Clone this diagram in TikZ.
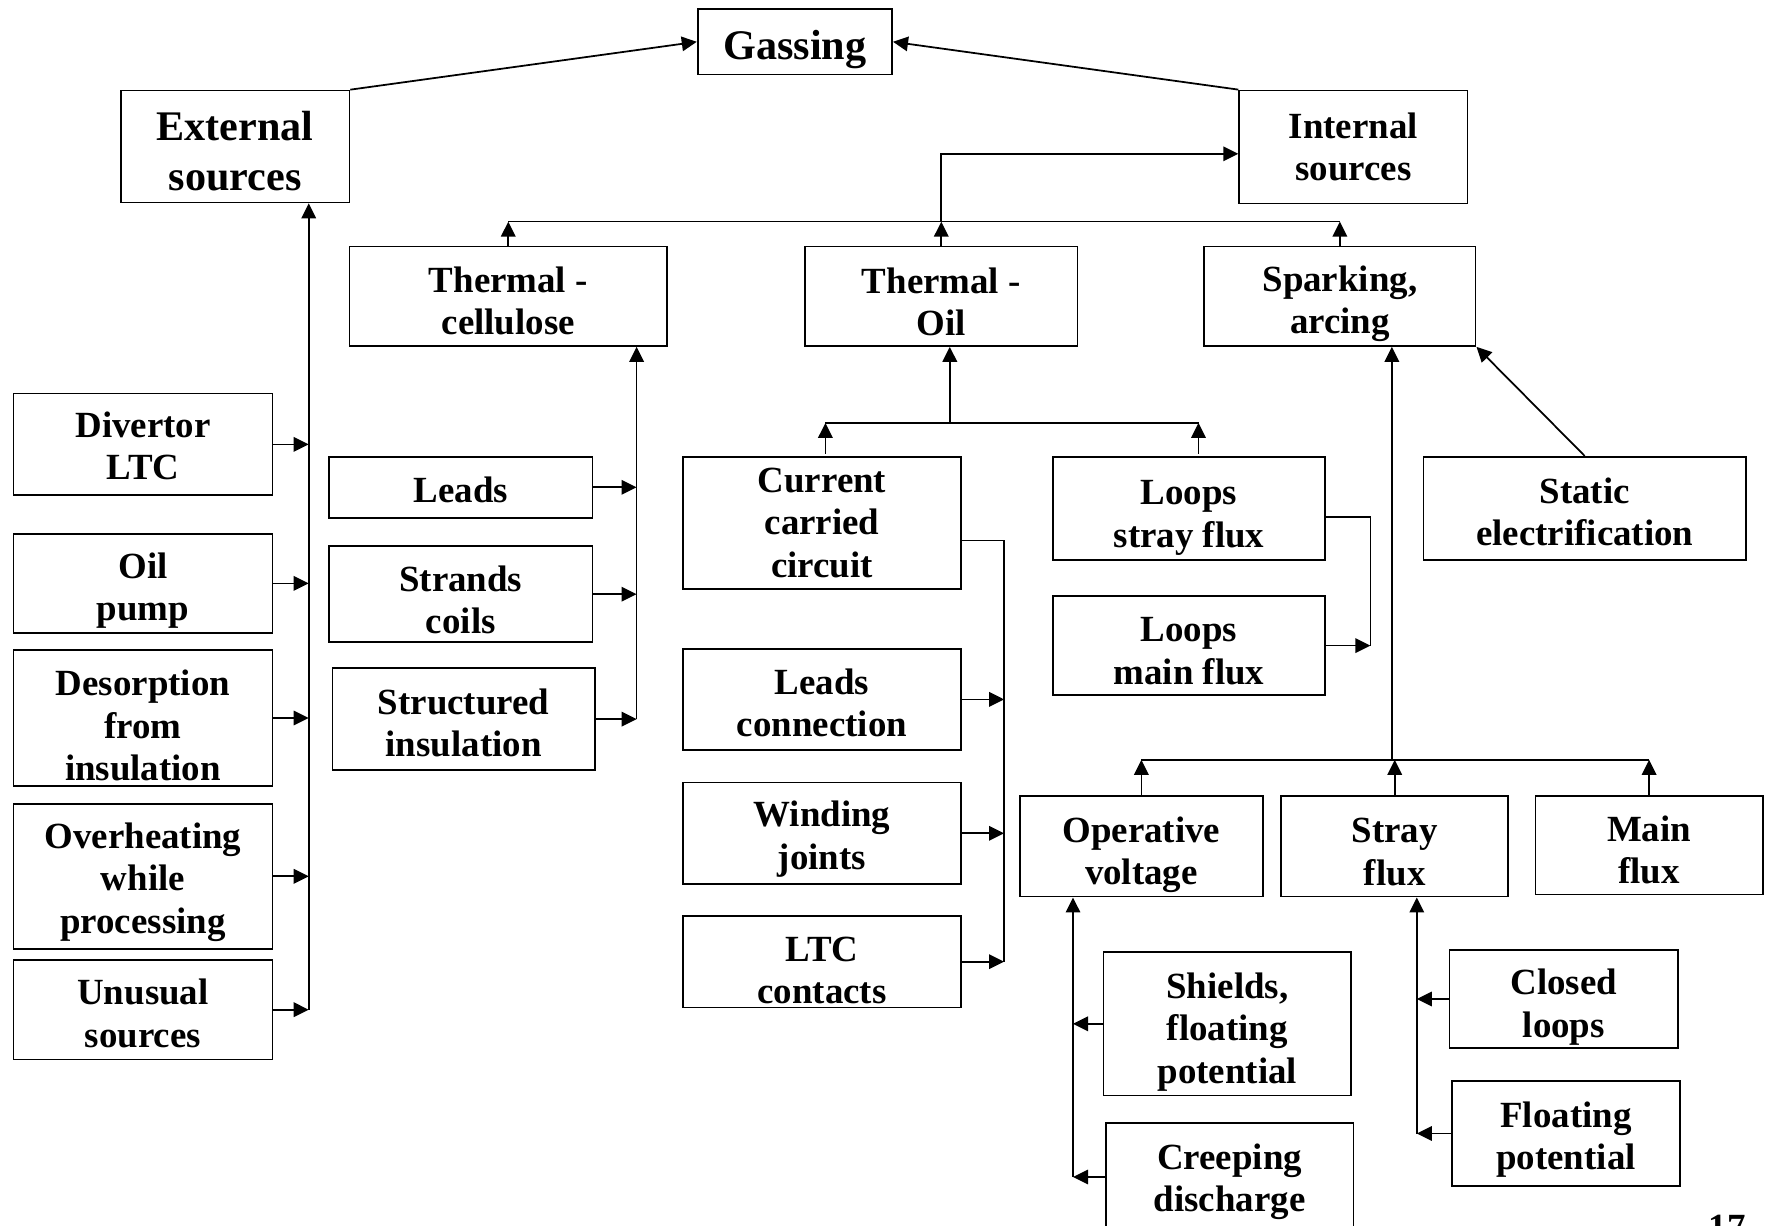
\documentclass[tikz,border=0pt]{standalone}
\usepackage{fontspec}
\setmainfont{Liberation Serif}
\usetikzlibrary{arrows.meta}

% first-line strut, pushes the text of a box down a little
\newcommand{\sh}[1]{\rule{0pt}{#1mm}}

\tikzset{
  blk/.style={draw, line width=0.5pt, align=center, inner sep=0pt,
    font=\fontsize{10.5}{12.1}\selectfont\bfseries},
  bigblk/.style={blk, font=\fontsize{12}{14.1}\selectfont\bfseries},
  arr/.style={-{Triangle[length=1.5mm,width=1.45mm]}}
}

\begin{document}
\begin{tikzpicture}[x=0.1mm, y=-0.1mm, line width=0.5pt]
      \useasboundingbox (0,0) rectangle (1773,1226);

      % top level
      \node[bigblk, minimum width=19.45mm, minimum height=6.56mm] (gassing) at (794.9,41.8) {\sh{4.5}Gassing};
      \node[bigblk, minimum width=22.84mm, minimum height=11.19mm] (external) at (235.2,146.5) {\sh{3.8}External\\sources};
      \node[blk, minimum width=22.84mm, minimum height=11.3mm] (internal) at (1353.4,147) {Internal\\sources};

      \node[blk, minimum width=31.77mm, minimum height=9.95mm] (tcell) at (508.3,296.2) {\sh{3.5}Thermal -\\cellulose};
      \node[blk, minimum width=27.25mm, minimum height=9.95mm] (toil) at (941.3,296.2) {\sh{3.7}Thermal -\\Oil};
      \node[blk, minimum width=27.14mm, minimum height=9.95mm] (spark) at (1339.9,296.2) {\sh{4.1}Sparking,\\arcing};

      % external sources
      \node[blk, minimum width=25.89mm, minimum height=10.17mm] (divertor) at (143,444.4) {\sh{2.9}Divertor\\LTC};
      \node[blk, minimum width=25.89mm, minimum height=9.95mm] (oilpump) at (143,583.4) {\sh{4.0}Oil\\pump};
      \node[blk, minimum width=25.89mm, minimum height=13.56mm] (desorp) at (143,718) {\sh{4.1}Desorption\\from\\insulation};
      \node[blk, minimum width=25.89mm, minimum height=14.48mm] (overheat) at (143,876.3) {\sh{3.7}Overheating\\while\\processing};
      \node[blk, minimum width=25.89mm, minimum height=9.95mm] (unusual) at (143,1009.7) {\sh{3.3}Unusual\\sources};

      % thermal - cellulose
      \node[blk, minimum width=26.35mm, minimum height=6.11mm] (leads) at (460.8,487.3) {\sh{3.1}Leads};
      \node[blk, minimum width=26.35mm, minimum height=9.61mm] (strands) at (460.8,594.2) {\sh{3.7}Strands\\coils};
      \node[blk, minimum width=26.23mm, minimum height=10.18mm] (struct) at (463.6,719.1) {\sh{3.3}Structured\\insulation};

      % thermal - oil
      \node[blk, minimum width=27.81mm, minimum height=13.23mm] (current) at (822,523) {Current\\carried\\circuit};
      \node[blk, minimum width=27.81mm, minimum height=10.07mm] (leadsc) at (822,699.4) {\sh{3.3}Leads\\connection};
      \node[blk, minimum width=27.81mm, minimum height=10.18mm] (winding) at (822,833.3) {\sh{3.7}Winding\\joints};
      \node[blk, minimum width=27.81mm, minimum height=9.16mm] (ltc) at (822,961.7) {\sh{4.2}LTC\\contacts};
      \node[blk, minimum width=27.25mm, minimum height=10.29mm] (loopss) at (1189,508.3) {\sh{4.3}Loops\\stray flux};
      \node[blk, minimum width=27.25mm, minimum height=9.95mm] (loopsm) at (1189,645.6) {\sh{3.5}Loops\\main flux};

      % sparking, arcing
      \node[blk, minimum width=32.22mm, minimum height=10.29mm] (static) at (1584.7,508.3) {\sh{3.3}Static\\electrification};
      \node[blk, minimum width=24.31mm, minimum height=10.06mm] (operative) at (1141.4,846.3) {\sh{4.3}Operative\\voltage};
      \node[blk, minimum width=22.73mm, minimum height=10.06mm] (strayf) at (1394.7,846.3) {\sh{3.6}Stray\\flux};
      \node[blk, minimum width=22.73mm, minimum height=9.84mm] (mainf) at (1649.1,845.2) {\sh{3.5}Main\\flux};
      \node[blk, minimum width=24.76mm, minimum height=14.36mm] (shields) at (1227.4,1023.8) {\sh{4.2}Shields,\\floating\\potential};
      \node[blk, minimum width=24.76mm, minimum height=10.84mm] (creeping) at (1229.6,1177) {\sh{3.5}Creeping\\discharge};
      \node[blk, minimum width=22.84mm, minimum height=9.84mm] (closed) at (1563.8,999) {\sh{4.2}Closed\\loops};
      \node[blk, minimum width=22.84mm, minimum height=10.51mm] (floating) at (1566,1133.5) {\sh{3.8}Floating\\potential};

      \node[font=\fontsize{10.5}{12}\selectfont\bfseries, anchor=north, inner sep=0pt] (pagenum) at (1727,1214) {17};

      % bus points
      \coordinate (extbus) at (308.7,0);
      \coordinate (cellbus) at (636.6,0);
      \coordinate (topbus) at (940.7,221.6);
      \coordinate (intin) at (0,153.8);
      \coordinate (oilbus) at (949.8,422.9);
      \coordinate (curbus) at (1004.1,540.5);
      \coordinate (loopbus) at (1370.4,516.7);
      \coordinate (sparkbus) at (1391.9,759.8);
      \coordinate (voltbus) at (1073,0);
      \coordinate (straybus) at (1416.8,0);

      \draw[arr] (external.north east) -- (gassing.west);
      \draw[arr] (internal.north west) -- (gassing.east);

      \draw (topbus -| tcell.north) -- (topbus -| spark.north);
      \draw[arr] (tcell.north) -- (tcell.north |- topbus);
      \draw[arr] (toil.north) -- (toil.north |- topbus);
      \draw[arr] (spark.north) -- (spark.north |- topbus);
      \draw[arr] (topbus) |- (internal.west |- intin);

      \draw[arr] (extbus |- unusual.east) -- (extbus |- external.south);
      \draw[arr] (divertor.east) -- (divertor.east -| extbus);
      \draw[arr] (oilpump.east) -- (oilpump.east -| extbus);
      \draw[arr] (desorp.east) -- (desorp.east -| extbus);
      \draw[arr] (overheat.east) -- (overheat.east -| extbus);
      \draw[arr] (unusual.east) -- (unusual.east -| extbus);

      \draw[arr] (cellbus |- struct.east) -- (cellbus |- tcell.south);
      \draw[arr] (leads.east) -- (leads.east -| cellbus);
      \draw[arr] (strands.east) -- (strands.east -| cellbus);
      \draw[arr] (struct.east) -- (struct.east -| cellbus);

      \draw[arr] (oilbus) -- (oilbus |- toil.south);
      \draw (oilbus -| 825.4,0) -- (oilbus -| 1198.5,0);
      \draw[arr] (oilbus -| 825.4,0) ++(0,31) -- (oilbus -| 825.4,0);
      \draw[arr] (oilbus -| 1198.5,0) ++(0,31) -- (oilbus -| 1198.5,0);

      \draw (curbus -| current.east) -- (curbus) -- (curbus |- ltc.east);
      \draw[arr] (leadsc.east) -- (leadsc.east -| curbus);
      \draw[arr] (winding.east) -- (winding.east -| curbus);
      \draw[arr] (ltc.east) -- (ltc.east -| curbus);

      \draw (loopbus -| loopss.east) -- (loopbus) -- (loopbus |- loopsm.east);
      \draw[arr] (loopsm.east) -- (loopsm.east -| loopbus);

      \draw[arr] (static.north) -- (spark.south east);

      \draw[arr] (sparkbus) -- (sparkbus |- spark.south);
      \draw (sparkbus -| operative.north) -- (sparkbus -| mainf.north);
      \draw[arr] (operative.north) -- (operative.north |- sparkbus);
      \draw[arr] (strayf.north) -- (strayf.north |- sparkbus);
      \draw[arr] (mainf.north) -- (mainf.north |- sparkbus);

      \draw[arr] (voltbus |- creeping.west) -- (voltbus |- operative.south);
      \draw[arr] (shields.west) -- (shields.west -| voltbus);
      \draw[arr] (creeping.west) -- (creeping.west -| voltbus);

      \draw[arr] (straybus |- floating.west) -- (straybus |- strayf.south);
      \draw[arr] (closed.west) -- (closed.west -| straybus);
      \draw[arr] (floating.west) -- (floating.west -| straybus);

    \end{tikzpicture}
\end{document}
